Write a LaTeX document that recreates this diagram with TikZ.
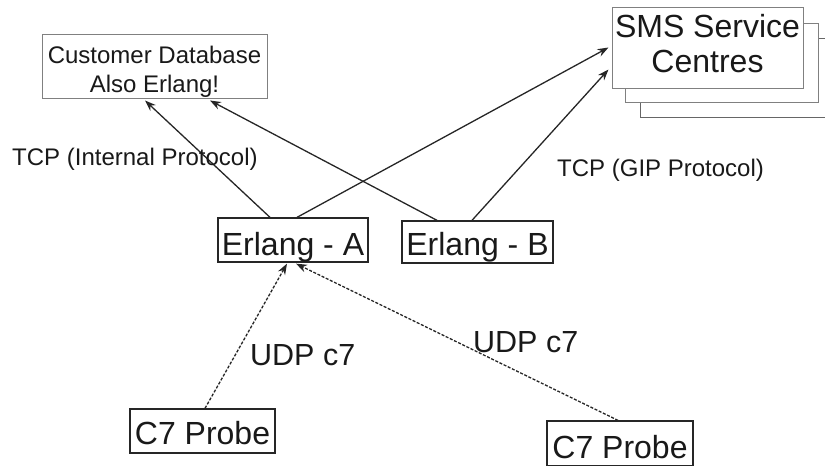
\documentclass[tikz,border=0pt]{standalone}
\usepackage{fontspec}
\setmainfont{Liberation Sans}
\usetikzlibrary{arrows.meta}
\begin{document}
\begin{tikzpicture}[x=1pt,y=-1pt,
  box/.style={draw=black!85, line width=1.3pt, inner sep=0pt, text depth=0pt, fill=white, text=black!90},
  softbox/.style={draw=black!50, line width=1pt, inner sep=0pt, fill=white, text=black!90},
  bigfont/.style={font=\fontsize{32}{35}\selectfont},
  midfont/.style={font=\fontsize{24}{29}\selectfont},
  link/.style={draw=black!85, line width=1.3pt, -{Stealth[length=11pt,width=8pt]}},
  udp/.style={link, dash pattern=on 3pt off 1.6pt},
  lbl/.style={anchor=base west, inner sep=0pt, text=black!90},
]
\useasboundingbox (0,0) rectangle (825,466);

% stacked SMS centre boxes behind the front one
\draw[draw=black!60, line width=1pt, fill=white] (830,38) -| (640,117) -- (830,117);
\draw[draw=black!50, line width=1pt, fill=white] (625,23) rectangle (818,102);

% main boxes
\node[softbox, midfont, align=center, minimum width=225pt, minimum height=64pt,
      text height=52pt, text depth=0pt] (db) at (154.5,66) {Customer Database\\Also Erlang!};
\node[softbox, bigfont, align=center, minimum width=191pt, minimum height=81pt,
      text height=49pt, text depth=0pt] (sms) at (707.5,47.5) {SMS Service\\Centres};
\node[box, bigfont, minimum width=150pt, minimum height=44pt, text height=30pt] (ea) at (293,240) {Erlang - A};
\node[box, bigfont, minimum width=151pt, minimum height=42pt, text height=26pt] (eb) at (477.5,242) {Erlang - B};
\node[box, bigfont, minimum width=145pt, minimum height=44pt, text height=26pt] (c7l) at (202.5,431) {C7 Probe};
\node[box, bigfont, minimum width=146pt, minimum height=45pt, text height=29pt] (c7r) at (620,443.5) {C7 Probe};

% TCP links
\draw[link] ([xshift=-23pt]ea.north) -- ([xshift=-9.5pt,yshift=-2pt]db.south);
\draw[link] ([xshift=-40.5pt]eb.north) -- ([xshift=55.5pt,yshift=-2pt]db.south);
\draw[link] ([xshift=4pt]ea.north) -- ([xshift=-3pt]sms.west);
\draw[link] ([xshift=-5.5pt]eb.north) -- ([xshift=-3pt,yshift=-22pt]sms.west);

% UDP links from the probes
\draw[udp] ([xshift=2.5pt]c7l.north) -- ([xshift=-6pt,yshift=-1pt]ea.south);
\draw[udp] ([xshift=-2pt]c7r.north) -- ([xshift=3pt,yshift=-1pt]ea.south);

% link labels
\node[lbl, midfont] (tcpint) at (12,165) {TCP (Internal Protocol)};
\node[lbl, midfont] (tcpgip) at (557,176) {TCP (GIP Protocol)};
\node[lbl, font=\fontsize{30.5}{34}\selectfont] (udpl) at (250,365) {UDP c7};
\node[lbl, font=\fontsize{30.5}{34}\selectfont] (udpr) at (473,352) {UDP c7};
\end{tikzpicture}
\end{document}
